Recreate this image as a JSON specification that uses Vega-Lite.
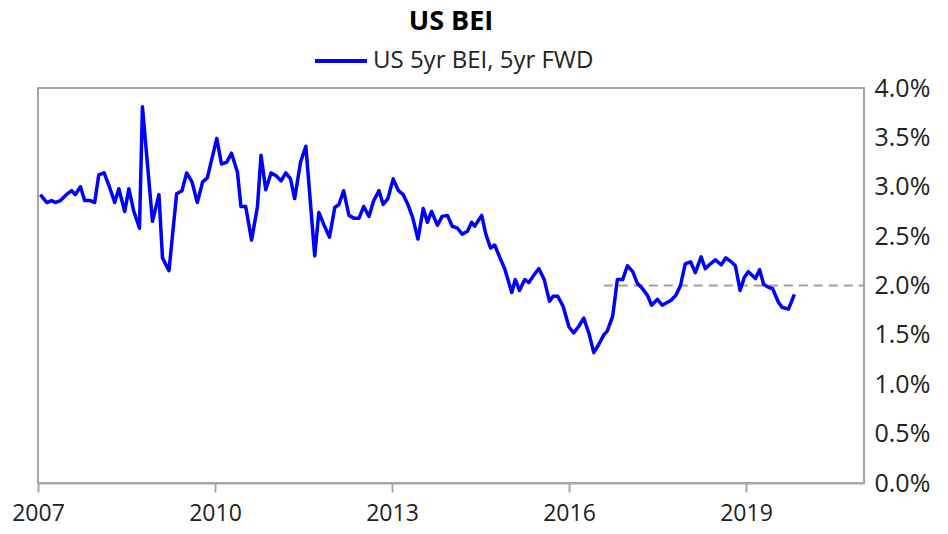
{
  "$schema": "https://vega.github.io/schema/vega-lite/v6.json",
  "width": 826,
  "height": 395,
  "autosize": "none",
  "padding": {"left": 38, "top": 88, "right": 84, "bottom": 51},
  "background": "white",
  "title": {"text": "US BEI", "anchor": "middle", "fontSize": 27, "fontWeight": "bold", "font": "Open Sans", "color": "#000000", "offset": -3},
  "config": {
    "view": {"stroke": "#a6a6a6", "strokeWidth": 2},
    "font": "Open Sans"
  },
  "datasets": {
    "bei": [
      {"t": 2007.04, "v": 2.92}, {"t": 2007.15, "v": 2.84}, {"t": 2007.23, "v": 2.86}, {"t": 2007.29, "v": 2.84},
      {"t": 2007.38, "v": 2.86}, {"t": 2007.48, "v": 2.92}, {"t": 2007.57, "v": 2.96}, {"t": 2007.63, "v": 2.92},
      {"t": 2007.72, "v": 3.00}, {"t": 2007.79, "v": 2.86}, {"t": 2007.89, "v": 2.86}, {"t": 2007.96, "v": 2.84},
      {"t": 2008.03, "v": 3.12}, {"t": 2008.12, "v": 3.14}, {"t": 2008.21, "v": 3.00}, {"t": 2008.30, "v": 2.84},
      {"t": 2008.37, "v": 2.98}, {"t": 2008.47, "v": 2.75}, {"t": 2008.54, "v": 2.98}, {"t": 2008.62, "v": 2.76},
      {"t": 2008.72, "v": 2.58}, {"t": 2008.77, "v": 3.81}, {"t": 2008.94, "v": 2.65}, {"t": 2009.05, "v": 2.92},
      {"t": 2009.11, "v": 2.28}, {"t": 2009.22, "v": 2.15}, {"t": 2009.35, "v": 2.93}, {"t": 2009.44, "v": 2.96},
      {"t": 2009.52, "v": 3.14}, {"t": 2009.61, "v": 3.05}, {"t": 2009.70, "v": 2.84}, {"t": 2009.79, "v": 3.05},
      {"t": 2009.87, "v": 3.09}, {"t": 2010.03, "v": 3.49}, {"t": 2010.11, "v": 3.23}, {"t": 2010.20, "v": 3.25},
      {"t": 2010.28, "v": 3.34}, {"t": 2010.38, "v": 3.15}, {"t": 2010.44, "v": 2.80}, {"t": 2010.52, "v": 2.80},
      {"t": 2010.62, "v": 2.46}, {"t": 2010.72, "v": 2.80}, {"t": 2010.78, "v": 3.32}, {"t": 2010.86, "v": 2.97},
      {"t": 2010.95, "v": 3.14}, {"t": 2011.04, "v": 3.11}, {"t": 2011.12, "v": 3.06}, {"t": 2011.20, "v": 3.14},
      {"t": 2011.28, "v": 3.08}, {"t": 2011.35, "v": 2.88}, {"t": 2011.45, "v": 3.25}, {"t": 2011.54, "v": 3.41},
      {"t": 2011.69, "v": 2.30}, {"t": 2011.76, "v": 2.74}, {"t": 2011.85, "v": 2.61}, {"t": 2011.94, "v": 2.49},
      {"t": 2012.03, "v": 2.79}, {"t": 2012.10, "v": 2.82}, {"t": 2012.18, "v": 2.96}, {"t": 2012.27, "v": 2.71},
      {"t": 2012.36, "v": 2.68}, {"t": 2012.44, "v": 2.68}, {"t": 2012.52, "v": 2.80}, {"t": 2012.61, "v": 2.70},
      {"t": 2012.69, "v": 2.86}, {"t": 2012.78, "v": 2.96}, {"t": 2012.85, "v": 2.82}, {"t": 2012.93, "v": 2.88},
      {"t": 2013.02, "v": 3.08}, {"t": 2013.11, "v": 2.96}, {"t": 2013.19, "v": 2.92}, {"t": 2013.27, "v": 2.82},
      {"t": 2013.35, "v": 2.69}, {"t": 2013.44, "v": 2.47}, {"t": 2013.53, "v": 2.78}, {"t": 2013.60, "v": 2.64},
      {"t": 2013.67, "v": 2.75}, {"t": 2013.77, "v": 2.61}, {"t": 2013.85, "v": 2.70}, {"t": 2013.94, "v": 2.71},
      {"t": 2014.02, "v": 2.60}, {"t": 2014.11, "v": 2.58}, {"t": 2014.19, "v": 2.52}, {"t": 2014.28, "v": 2.55},
      {"t": 2014.35, "v": 2.64}, {"t": 2014.40, "v": 2.60}, {"t": 2014.52, "v": 2.71}, {"t": 2014.59, "v": 2.52},
      {"t": 2014.67, "v": 2.38}, {"t": 2014.74, "v": 2.41}, {"t": 2014.83, "v": 2.28}, {"t": 2014.91, "v": 2.17},
      {"t": 2015.03, "v": 1.93}, {"t": 2015.09, "v": 2.06}, {"t": 2015.16, "v": 1.95}, {"t": 2015.25, "v": 2.06},
      {"t": 2015.32, "v": 2.03}, {"t": 2015.41, "v": 2.11}, {"t": 2015.49, "v": 2.17}, {"t": 2015.58, "v": 2.06},
      {"t": 2015.67, "v": 1.84}, {"t": 2015.73, "v": 1.89}, {"t": 2015.81, "v": 1.89}, {"t": 2015.90, "v": 1.79},
      {"t": 2016.00, "v": 1.58}, {"t": 2016.08, "v": 1.52}, {"t": 2016.17, "v": 1.59}, {"t": 2016.25, "v": 1.67},
      {"t": 2016.34, "v": 1.51}, {"t": 2016.42, "v": 1.32}, {"t": 2016.51, "v": 1.41}, {"t": 2016.59, "v": 1.50},
      {"t": 2016.65, "v": 1.54}, {"t": 2016.74, "v": 1.69}, {"t": 2016.82, "v": 2.06}, {"t": 2016.91, "v": 2.06},
      {"t": 2016.99, "v": 2.20}, {"t": 2017.08, "v": 2.14}, {"t": 2017.16, "v": 2.02}, {"t": 2017.23, "v": 1.98},
      {"t": 2017.33, "v": 1.90}, {"t": 2017.40, "v": 1.80}, {"t": 2017.50, "v": 1.86}, {"t": 2017.58, "v": 1.80},
      {"t": 2017.73, "v": 1.85}, {"t": 2017.81, "v": 1.90}, {"t": 2017.89, "v": 2.00}, {"t": 2017.97, "v": 2.22},
      {"t": 2018.06, "v": 2.24}, {"t": 2018.14, "v": 2.13}, {"t": 2018.24, "v": 2.29}, {"t": 2018.31, "v": 2.17},
      {"t": 2018.38, "v": 2.21}, {"t": 2018.48, "v": 2.26}, {"t": 2018.58, "v": 2.21}, {"t": 2018.66, "v": 2.28},
      {"t": 2018.75, "v": 2.24}, {"t": 2018.82, "v": 2.20}, {"t": 2018.90, "v": 1.95}, {"t": 2018.97, "v": 2.08},
      {"t": 2019.04, "v": 2.14}, {"t": 2019.16, "v": 2.07}, {"t": 2019.23, "v": 2.16}, {"t": 2019.30, "v": 2.01},
      {"t": 2019.39, "v": 1.98}, {"t": 2019.45, "v": 1.97}, {"t": 2019.55, "v": 1.83}, {"t": 2019.61, "v": 1.78},
      {"t": 2019.72, "v": 1.76}, {"t": 2019.82, "v": 1.91}
    ],
    "target": [{"t": 2016.59, "t2": 2021, "v": 2.0}]
  },
  "encoding": {
    "x": {
      "field": "t", "type": "quantitative",
      "scale": {"domain": [2007, 2021], "nice": false, "zero": false},
      "axis": {
        "values": [2007, 2010, 2013, 2016, 2019], "format": "d", "title": null, "grid": false,
        "tickSize": 9, "tickColor": "#a6a6a6", "tickWidth": 2,
        "domainColor": "#a6a6a6", "domainWidth": 2,
        "labelFontSize": 23, "labelColor": "#222222", "labelPadding": 10, "labelFlush": false,
        "labelFont": "Open Sans"
      }
    },
    "y": {
      "field": "v", "type": "quantitative",
      "scale": {"domain": [0, 4], "nice": false},
      "axis": {
        "orient": "right", "values": [0, 0.5, 1, 1.5, 2, 2.5, 3, 3.5, 4],
        "labelExpr": "format(datum.value, '.1f') + '%'", "title": null, "grid": false,
        "ticks": false, "domain": false, "labelPadding": 10, "labelAlign": "left",
        "labelFontSize": 25, "labelColor": "#222222", "labelFont": "Open Sans"
      }
    }
  },
  "layer": [
    {
      "data": {"name": "target"},
      "mark": {"type": "rule", "strokeDash": [9, 6], "color": "#a0a0a0", "strokeWidth": 2},
      "encoding": {"x2": {"field": "t2"}}
    },
    {
      "data": {"name": "bei"},
      "mark": {"type": "line", "strokeWidth": 3.5, "strokeJoin": "round"},
      "encoding": {
        "color": {
          "datum": "US 5yr BEI, 5yr FWD",
          "scale": {"range": ["#0000ff"]},
          "legend": {
            "orient": "none", "legendX": 275, "legendY": -55, "title": null,
            "symbolType": "stroke", "symbolSize": 2704, "symbolStrokeWidth": 4,
            "labelFontSize": 24, "labelColor": "#222222", "labelFont": "Open Sans", "labelOffset": 4,
            "labelLimit": 500
          }
        }
      }
    }
  ]
}
